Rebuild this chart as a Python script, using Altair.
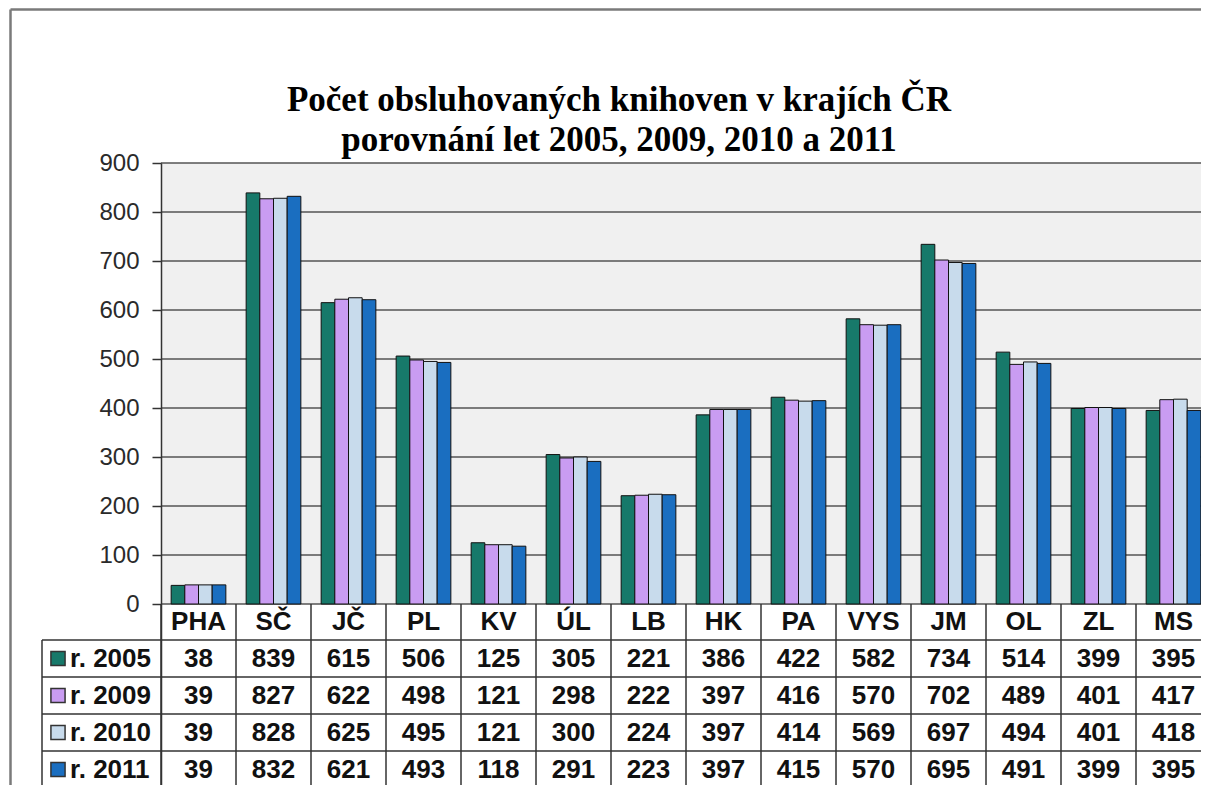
import altair as alt
import pandas as pd

# ---------------- data ----------------
categories = ["PHA", "SČ", "JČ", "PL", "KV", "ÚL", "LB", "HK", "PA", "VYS", "JM", "OL", "ZL", "MS"]
years = ["r. 2005", "r. 2009", "r. 2010", "r. 2011"]
v2005 = [38, 839, 615, 506, 125, 305, 221, 386, 422, 582, 734, 514, 399, 395]
v2009 = [39, 827, 622, 498, 121, 298, 222, 397, 416, 570, 702, 489, 401, 417]
v2010 = [39, 828, 625, 495, 121, 300, 224, 397, 414, 569, 697, 494, 401, 418]
v2011 = [39, 832, 621, 493, 118, 291, 223, 397, 415, 570, 695, 491, 399, 395]
series = [v2005, v2009, v2010, v2011]
colors = ["#17796a", "#c99cf2", "#c8dbec", "#1a6ec0"]
y_ticks = [0, 100, 200, 300, 400, 500, 600, 700, 800, 900]
title_1 = "Počet obsluhovaných  knihoven v krajích ČR"
title_2 = "porovnání  let 2005, 2009, 2010 a 2011"

# ---------------- layout ----------------
PX = 0.49            # pixels per unit
W, H = 1040, 622     # plot area
ZERO_PX = 900 * PX
X_RANGE = 1050
row_lines_off = [36, 73, 110, 147, 184]     # px below zero line
row_center_off = [(a + b) / 2 for a, b in zip(row_lines_off[:-1], row_lines_off[1:])]
header_off = row_lines_off[0] / 2
TFONT = 26

rows = []
for i, (yr, vals) in enumerate(zip(years, series)):
    for c, v in zip(categories, vals):
        rows.append({"cat": c, "year": yr, "value": v, "ty": -row_center_off[i] / PX})
df = pd.DataFrame(rows)

cat_df = pd.DataFrame({"cat": categories})
leg_df = pd.DataFrame({"year": years, "ty": [-o / PX for o in row_center_off]})
grid_df = pd.DataFrame({"v": y_ticks})
hline_df = pd.DataFrame({"v": [-o / PX for o in row_lines_off]})

yscale = alt.Scale(domain=[900 - H / PX, 900], nice=False, zero=False)
xscale = alt.Scale(domain=categories, range=[0, X_RANGE], paddingInner=0, paddingOuter=0)
cscale = alt.Scale(domain=years, range=colors)
LINE = "#333333"

background = alt.Chart(pd.DataFrame({"a": [0]})).mark_rect(color="#f0f0f0").encode(
    x=alt.value(0), x2=alt.value(W + 40),
    y=alt.datum(900, scale=yscale), y2=alt.datum(0),
)

grid = alt.Chart(grid_df).mark_rule(color="#555555", strokeWidth=1.5).encode(
    y=alt.Y("v:Q", scale=yscale,
            axis=alt.Axis(values=y_ticks, grid=False, title=None, domainColor=LINE,
                          domainWidth=1.5, tickColor=LINE, tickSize=9, tickWidth=1.5,
                          labelFont="Liberation Sans", labelFontSize=24, labelColor="#2a2a2a",
                          labelPadding=13, zindex=1)),
    x=alt.value(0), x2=alt.value(W + 40),
)

bars = alt.Chart(df).mark_bar(stroke="#111111", strokeWidth=1).encode(
    x=alt.X("cat:N", scale=xscale, axis=None, sort=categories),
    xOffset=alt.XOffset("year:N", sort=years,
                        scale=alt.Scale(domain=years, paddingOuter=0.742, paddingInner=0)),
    y=alt.Y("value:Q", scale=yscale),
    y2=alt.datum(0),
    color=alt.Color("year:N", scale=cscale, legend=None),
)

vlines = alt.Chart(cat_df).mark_rule(color=LINE, strokeWidth=1.5).encode(
    x=alt.X("cat:N", scale=xscale, bandPosition=0, sort=categories),
    y=alt.value(ZERO_PX), y2=alt.value(H),
)

hlines = alt.Chart(hline_df).mark_rule(color=LINE, strokeWidth=1.5).encode(
    y=alt.Y("v:Q", scale=yscale),
    x=alt.value(-119), x2=alt.value(W + 40),
)

leg_border = alt.Chart(pd.DataFrame({"a": [0]})).mark_rule(color=LINE, strokeWidth=1.5).encode(
    x=alt.value(-119), y=alt.value(ZERO_PX + row_lines_off[0]), y2=alt.value(H),
)

header = alt.Chart(cat_df).mark_text(
    font="Liberation Sans", fontSize=TFONT, fontWeight="bold", color="#111111", baseline="middle"
).encode(
    x=alt.X("cat:N", scale=xscale, sort=categories),
    y=alt.datum(-header_off / PX),
    text="cat:N",
)

values = alt.Chart(df).mark_text(
    font="Liberation Sans", fontSize=TFONT, fontWeight="bold", color="#111111", baseline="middle"
).encode(
    x=alt.X("cat:N", scale=xscale, sort=categories),
    y=alt.Y("ty:Q", scale=yscale),
    text="value:Q",
)

leg_text = alt.Chart(leg_df).mark_text(
    font="Liberation Sans", fontSize=TFONT, fontWeight="bold", color="#111111",
    baseline="middle", align="left"
).encode(
    x=alt.value(-91),
    y=alt.Y("ty:Q", scale=yscale),
    text="year:N",
)

leg_swatch = alt.Chart(leg_df).mark_point(
    shape="square", size=200, filled=True, opacity=1, stroke="#333333", strokeWidth=1.5
).encode(
    x=alt.value(-103),
    y=alt.Y("ty:Q", scale=yscale),
    color=alt.Color("year:N", scale=cscale, legend=None),
)

frame_top = alt.Chart(pd.DataFrame({"a": [0]})).mark_rule(color="#7a7a7a", strokeWidth=2.5).encode(
    x=alt.value(-150.5), x2=alt.value(W + 40), y=alt.value(-153.5),
)
frame_left = alt.Chart(pd.DataFrame({"a": [0]})).mark_rule(color="#7a7a7a", strokeWidth=2.5).encode(
    x=alt.value(-150.5), y=alt.value(-153.5), y2=alt.value(H),
)

t1 = alt.Chart(pd.DataFrame({"t": [title_1]})).mark_text(
    font="Liberation Serif", fontSize=35, fontWeight="bold", color="#000000", align="center",
    baseline="middle"
).encode(x=alt.value(458), y=alt.value(-63), text="t:N")
t2 = alt.Chart(pd.DataFrame({"t": [title_2]})).mark_text(
    font="Liberation Serif", fontSize=35, fontWeight="bold", color="#000000", align="center",
    baseline="middle"
).encode(x=alt.value(458), y=alt.value(-23), text="t:N")

chart = alt.layer(
    background, grid, bars, vlines, hlines, leg_border, header, values,
    leg_text, leg_swatch, frame_top, frame_left, t1, t2
).properties(
    width=W, height=H,
    autosize=alt.AutoSizeParams(type="none"),
    padding={"left": 153, "top": 155, "right": 0, "bottom": 0},
).configure_view(stroke=None).configure(background="#ffffff")

chart.save("out.html", embed_options={"renderer": "svg", "actions": False})
